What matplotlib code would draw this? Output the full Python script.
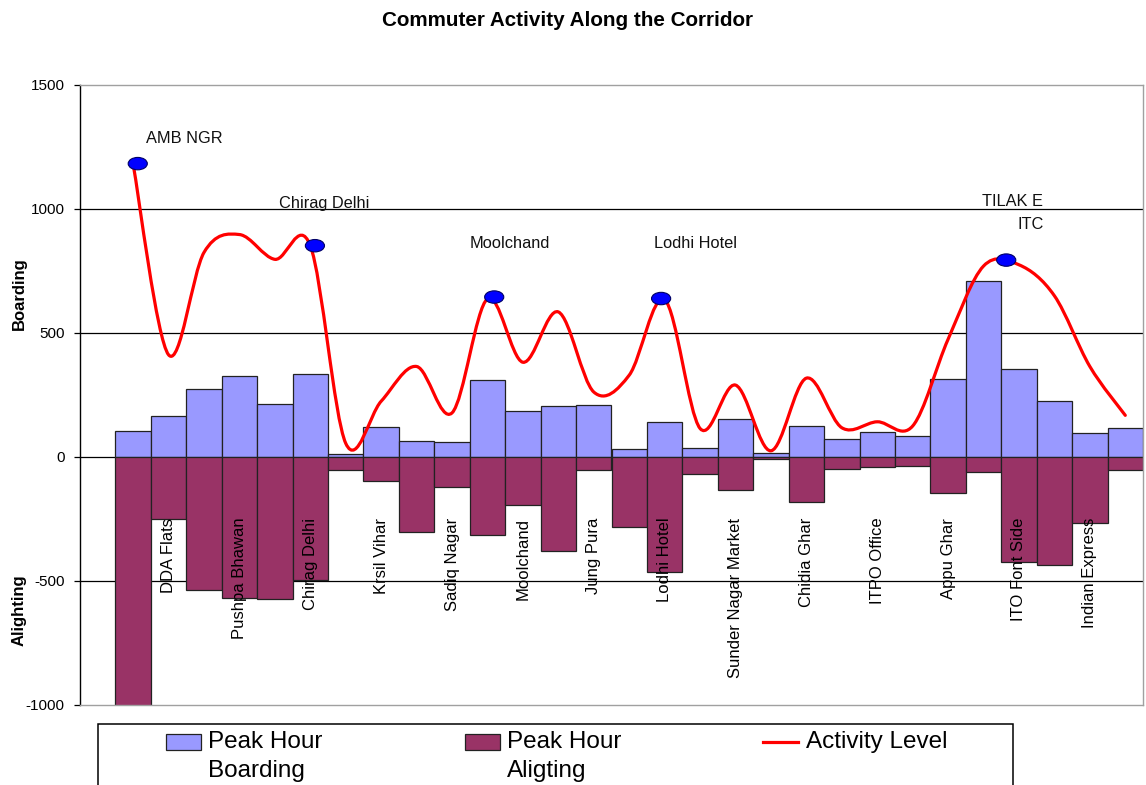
import numpy as np
import matplotlib
matplotlib.use("Agg")
import matplotlib.pyplot as plt
from matplotlib.path import Path
from matplotlib.patches import PathPatch, Ellipse, Rectangle
from matplotlib.lines import Line2D
from matplotlib.legend_handler import HandlerPatch, HandlerLine2D

plt.rcParams['font.family'] = ['Liberation Sans', 'DejaVu Sans']
plt.rcParams['axes.unicode_minus'] = False

# stations along the corridor (only every second one is labelled on the chart)
stations = ["", "DDA Flats", "", "Pushpa Bhawan", "", "Chirag Delhi", "", "Krsil Vihar", "",
            "Sadiq Nagar", "", "Moolchand", "", "Jung Pura", "", "Lodhi Hotel", "",
            "Sunder Nagar Market", "", "Chidia Ghar", "", "ITPO Office", "", "Appu Ghar", "",
            "ITO Font Side", "", "Indian Express", ""]

boarding = [105, 164, 274, 326, 215, 335, 11, 122, 64, 59, 311, 184, 206, 211, 32,
            142, 37, 152, 16, 127, 73, 99, 86, 316, 708, 353, 226, 95, 115]
alighting = [-1005, -252, -537, -569, -573, -497, -53, -95, -303, -120, -315, -195, -378, -53, -283,
             -463, -67, -135, -8, -182, -47, -41, -35, -146, -59, -425, -436, -266, -53]
activity = [1180, 412, 825, 897, 797, 852, 55, 225, 365, 178, 638, 382, 585, 262, 330,
            634, 115, 290, 25, 318, 118, 142, 125, 475, 770, 775, 650, 365, 168]

# highlighted stops on the activity line
hl_pos = [1.13, 6.13, 11.19, 15.9, 25.64]
hl_vals = [1183, 852, 645, 639, 794]
hl_text = [("AMB NGR", 1.35, 1286, "left"), ("Chirag Delhi", 5.12, 1022, "left"),
           ("Moolchand", 10.51, 862, "left"), ("Lodhi Hotel", 15.7, 862, "left"),
           ("TILAK E", 26.69, 1029, "right"), ("ITC", 26.69, 936, "right")]

blue = '#9999FF'
maroon = '#993366'

W, H = 1146, 785
fig = plt.figure(figsize=(W / 100, H / 100), dpi=100)
ax = fig.add_axes([80 / W, 1 - 705 / H, (1143 - 80) / W, (705 - 85) / H])

pos = np.arange(1, len(stations) + 1)
ax.bar(pos, boarding, width=1.0, color=blue, edgecolor='#222222', linewidth=0.9, zorder=2)
ax.bar(pos, alighting, width=1.0, color=maroon, edgecolor='#222222', linewidth=0.9, zorder=2)

# smoothed activity line (bezier through the points, like the spreadsheet's smoothed line)
pts = np.column_stack([pos, activity]).astype(float)
ext = np.vstack([pts[0], pts, pts[-1]])
verts = [pts[0]]
codes = [Path.MOVETO]
for i in range(len(pts) - 1):
    p0, p1, p2, p3 = ext[i], ext[i + 1], ext[i + 2], ext[i + 3]
    verts += [p1 + (p2 - p0) / 6, p2 - (p3 - p1) / 6, p2]
    codes += [Path.CURVE4] * 3
ax.add_patch(PathPatch(Path(verts, codes), fill=False, edgecolor='#FF0000', lw=2.3,
                       capstyle='round', joinstyle='round', zorder=3))

for x, v in zip(hl_pos, hl_vals):
    ax.add_patch(Ellipse((x, v), 0.54, 50, facecolor='#0000FF', edgecolor='#000066', lw=0.8, zorder=4))
for t, x, v, ha in hl_text:
    ax.text(x, v, t, ha=ha, va='center', fontsize=11.8, color='#111111', zorder=5)

for p, name in zip(pos, stations):
    if name:
        ax.text(p, -245, name, rotation=90, ha='center', va='top', fontsize=12, zorder=5)

ax.set_xlim(-0.5, 29.5)
ax.set_ylim(-1000, 1500)
yt = [-1000, -500, 0, 500, 1000, 1500]
ax.set_yticks(yt)
ax.set_xticks([])
for v in yt[1:-1]:
    ax.axhline(v, color='black', lw=0.9, zorder=0.5)
ax.tick_params(axis='y', direction='out', length=4.5, width=0.9, pad=6.5, labelsize=11)
for s in ['top', 'right', 'bottom']:
    ax.spines[s].set_color('#a0a0a0')
    ax.spines[s].set_linewidth(1.0)
ax.spines['left'].set_color('black')
ax.spines['left'].set_linewidth(1.0)

fig.text(567 / W, 1 - 20 / H, 'Commuter Activity Along the Corridor', ha='center', va='center',
         fontweight='bold', fontsize=14.9)
fig.text(19 / W, 1 - 294 / H, 'Boarding', rotation=90, ha='center', va='center',
         fontweight='bold', fontsize=12)
fig.text(19 / W, 1 - 610 / H, 'Alighting', rotation=90, ha='center', va='center',
         fontweight='bold', fontsize=12)


# legend handles sit beside the first line of two-line labels
def raised_patch(legend, orig_handle, xdescent, ydescent, width, height, fontsize):
    return Rectangle((-xdescent, -ydescent + 0.6 * fontsize), width, height)


class RaisedLine(HandlerLine2D):
    def create_artists(self, legend, orig_handle, xdescent, ydescent, width, height, fontsize, trans):
        return super().create_artists(legend, orig_handle, xdescent, ydescent - 1.2 * fontsize,
                                      width, height, fontsize, trans)


handles = [Rectangle((0, 0), 1, 1, facecolor=blue, edgecolor='#222222', lw=0.9),
           Rectangle((0, 0), 1, 1, facecolor=maroon, edgecolor='#222222', lw=0.9),
           Line2D([], [], color='#FF0000', lw=2.3)]
labels = ['Peak Hour\nBoarding', 'Peak Hour\nAligting', 'Activity Level\n ']
leg = fig.legend(handles, labels, loc='upper left', bbox_to_anchor=(166 / W, 1 - 731 / H), ncol=3,
                 frameon=False, fontsize=17.5, handlelength=1.44, handleheight=0.62,
                 handletextpad=0.3, columnspacing=5.84, borderpad=0, borderaxespad=0,
                 handler_map={Rectangle: HandlerPatch(patch_func=raised_patch),
                              Line2D: RaisedLine()})
for t in leg.get_texts():
    t.set_linespacing(1.4)
fig.add_artist(Rectangle((98 / W, -0.1), (1013 - 98) / W, 1 - 724 / H + 0.1,
                         transform=fig.transFigure, fill=False, edgecolor='black', lw=1.1))

fig.savefig('out.png', dpi=100)
